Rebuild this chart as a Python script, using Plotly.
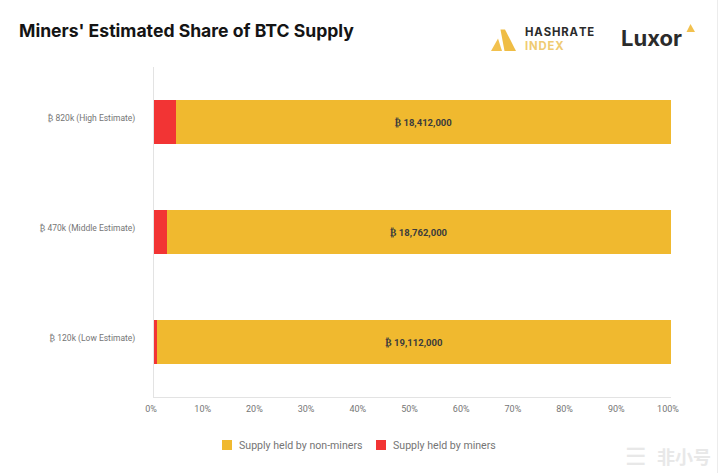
"""Miners' estimated share of BTC supply, stacked to 100%."""
import plotly.graph_objects as go

W, H = 718, 473
L, R, T, B = 154, 671, 67, 397

categories = ["₿ 120k (Low Estimate)", "₿ 470k (Middle Estimate)", "₿ 820k (High Estimate)"]
held_by_miners = [120000, 470000, 820000]
held_by_non_miners = [19112000, 18762000, 18412000]
bar_labels = ["₿ 19,112,000", "₿ 18,762,000", "₿ 18,412,000"]
x_ticks = list(range(0, 101, 10))
x_tick_labels = [f"{v}%" for v in x_ticks]

GOLD = "#f0b92f"
RED = "#f23434"
GREY = "#757575"
LINE = "#e3e3e3"
HAIR = "\u200a"


def px(x):
    return (x - L) / (R - L)


def py(y):
    return (B - y) / (B - T)


def poly(points, color):
    path = "M " + " L ".join(f"{px(x):.5f},{py(y):.5f}" for x, y in points) + " Z"
    return dict(type="path", path=path, xref="paper", yref="paper",
                fillcolor=color, line=dict(width=0), layer="above")


def label(text, x, y, size, color, weight="normal", family="Inter", anchor="left"):
    return dict(text=text, x=px(x), y=py(y), xref="paper", yref="paper", showarrow=False,
                xanchor=anchor, yanchor="middle", borderpad=0, borderwidth=0,
                font=dict(size=size, color=color, family=family, weight=weight))


fig = go.Figure()
fig.add_bar(
    y=categories, x=held_by_miners, name="Supply held by miners", orientation="h",
    marker=dict(color=RED, line=dict(width=0)), textposition="none",
)
fig.add_bar(
    y=categories, x=held_by_non_miners, name="Supply held by non-miners", orientation="h",
    marker=dict(color=GOLD, line=dict(width=0)),
    text=bar_labels, textposition="inside", insidetextanchor="middle",
    textfont=dict(size=9.5, color="#3c3c3c", family="Roboto", weight="bold"),
)

# logos, watermark and the legend swatches (plotly's own swatch gap is too wide here)
shapes = [
    poly([(491, 51), (498, 38.5), (502, 51)], "#f2c14e"),
    poly([(500.5, 29.5), (505, 29.5), (516, 51), (504.5, 51)], "#efbd45"),
    poly([(686.5, 32), (690.5, 24), (695, 32)], "#f2c14e"),
    poly([(222, 440), (232, 440), (232, 450), (222, 450)], GOLD),
    poly([(376, 440), (386, 440), (386, 450), (376, 450)], RED),
    dict(type="line", x0=px(717.5), x1=px(717.5), y0=py(0), y1=py(473), xref="paper", yref="paper",
         line=dict(color="#ececec", width=1)),
]
annotations = [
    label(HAIR.join("HASHRATE"), 525, 32, 11.3, "#2b2b2b", "bold"),
    label(HAIR.join("INDEX"), 525, 46, 11.3, "#efcb72", "bold"),
    label("Luxor", 621, 38, 22, "#2b2b2b", "bold"),
    label("非小号", 657, 456, 18, "#e8e8e8", "bold", "Noto Sans CJK SC"),
    label("☰", 625, 456, 24, "#e8e8e8"),
    label("Supply held by non-miners", 239, 445, 10.6, GREY, family="Roboto"),
    label("Supply held by miners", 393, 445, 10.6, GREY, family="Roboto"),
]

fig.update_layout(
    width=W, height=H,
    margin=dict(l=L, r=W - R, t=T, b=H - B, autoexpand=False),
    paper_bgcolor="white", plot_bgcolor="white",
    barmode="stack", barnorm="percent", bargap=0.595,
    title=dict(text="<b>Miners' Estimated Share of BTC Supply</b>",
               x=19 / W, xanchor="left", y=1 - 31 / H, yanchor="middle",
               font=dict(size=17.6, color="#141414", family="Inter")),
    font=dict(family="Roboto, DejaVu Sans", size=10, color=GREY),
    showlegend=False,
    shapes=shapes, annotations=annotations,
)
fig.update_xaxes(range=[0, 100], tickvals=x_ticks, ticktext=x_tick_labels, showgrid=False,
                 zeroline=False, showline=True, linecolor=LINE, linewidth=1, ticks="",
                 ticklabelstandoff=3, ticklabelshift=-3, tickfont=dict(size=9, color=GREY))
fig.update_yaxes(showgrid=False, zeroline=False, showline=True, linecolor=LINE, linewidth=1,
                 ticks="", ticklabelstandoff=16, ticklabelshift=-4, tickfont=dict(size=8.5, color=GREY))

# the page's default body margin would push the figure 8px off
fig.write_html("out.html", config={"displayModeBar": False},
               post_script="document.body.style.margin = '0';")
